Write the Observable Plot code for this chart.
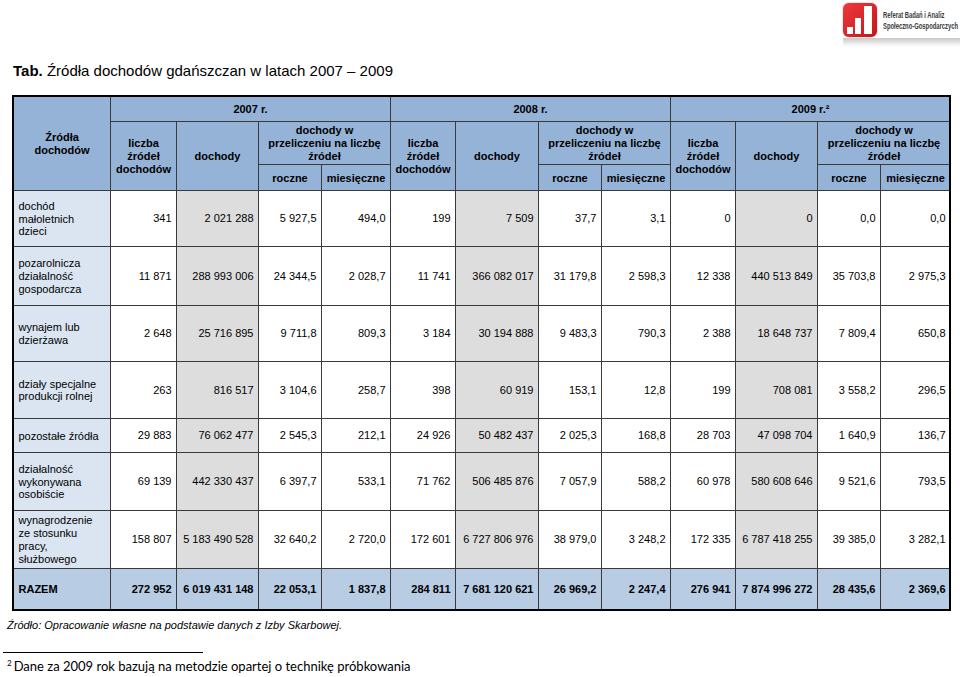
<!DOCTYPE html>
<html>
<head>
<meta charset="utf-8">
<script src="https://cdn.jsdelivr.net/npm/d3@7"></script>
<script src="https://cdn.jsdelivr.net/npm/@observablehq/plot@0.6"></script>
<style>
  html, body { margin: 0; padding: 0; background: #fff; }
  #page { position: relative; width: 960px; height: 677px; overflow: hidden; font-family: "Liberation Sans", Arial, sans-serif; color: #000; }
  #title { position: absolute; left: 13px; top: 62px; font-size: 15px; line-height: normal; white-space: nowrap; }
  #chart { position: absolute; left: 0; top: 90px; }
  #logoBox { position: absolute; left: 843px; top: 3px; width: 34px; height: 34px; border-radius: 6px;
             background: linear-gradient(135deg, #ee3a3d, #c3151b); box-shadow: 0 0 1px #900; }
  .bar { position: absolute; background: #fff; bottom: 3px; width: 6px; }
  #logoText { position: absolute; left: 883px; top: 10px; font-family: "Liberation Sans", sans-serif;
              font-weight: bold; font-size: 8.5px; line-height: 11px; color: #3a3a3a; white-space: nowrap;
              transform-origin: 0 0; }
  #logoShadow { position: absolute; left: 843px; top: 38px; width: 117px; height: 9px;
                background: linear-gradient(to bottom, #c8c8c8, #f2f2f2 70%, #fff); }
  #source { position: absolute; left: 7px; top: 619px; font-size: 11px; font-style: italic; white-space: nowrap; }
  #rule { position: absolute; left: 3px; top: 652px; width: 200px; height: 0; border-top: 1px solid #000; }
  #note { position: absolute; left: 7px; top: 658px; font-family: Lato, "Open Sans", sans-serif; font-size: 13px; white-space: nowrap; }
  #note sup { font-size: 8px; vertical-align: 5px; margin-right: 2px; }
</style>
</head>
<body>
<div id="page">
  <div id="logoBox">
    <div class="bar" style="left:4px;height:7px;"></div>
    <div class="bar" style="left:12px;height:16px;"></div>
    <div class="bar" style="left:21px;width:8px;height:28px;"></div>
  </div>
  <div id="logoShadow"></div>
  <div id="logoText">Referat Badań i Analiz<br>Społeczno-Gospodarczych</div>
  <div id="title"><b>Tab.</b> Źródła dochodów gdańszczan w latach 2007 – 2009</div>
  <div id="chart"></div>
  <div id="source">Źródło: Opracowanie własne na podstawie danych z Izby Skarbowej.</div>
  <div id="rule"></div>
  <div id="note"><sup>2</sup>Dane za 2009 rok bazują na metodzie opartej o technikę próbkowania</div>
</div>
<script>
// ---------- DATA ----------
const sources = [
  "dochód\nmałoletnich\ndzieci",
  "pozarolnicza\ndziałalność\ngospodarcza",
  "wynajem lub\ndzierżawa",
  "działy specjalne\nprodukcji rolnej",
  "pozostałe źródła",
  "działalność\nwykonywana\nosobiście",
  "wynagrodzenie\nze stosunku\npracy,\nsłużbowego",
  "RAZEM"
];
const years = ["2007 r.", "2008 r.", "2009 r.²"];
const cornerHeader = "Źródła\ndochodów";
const groupHeaders = ["liczba\nźródeł\ndochodów", "dochody", "dochody w\nprzeliczeniu na liczbę\nźródeł"];
const perSourceHeaders = ["roczne", "miesięczne"];

const count2007   = [341, 11871, 2648, 263, 29883, 69139, 158807, 272952];
const income2007  = [2021288, 288993006, 25716895, 816517, 76062477, 442330437, 5183490528, 6019431148];
const yearly2007  = [5927.5, 24344.5, 9711.8, 3104.6, 2545.3, 6397.7, 32640.2, 22053.1];
const monthly2007 = [494.0, 2028.7, 809.3, 258.7, 212.1, 533.1, 2720.0, 1837.8];

const count2008   = [199, 11741, 3184, 398, 24926, 71762, 172601, 284811];
const income2008  = [7509, 366082017, 30194888, 60919, 50482437, 506485876, 6727806976, 7681120621];
const yearly2008  = [37.7, 31179.8, 9483.3, 153.1, 2025.3, 7057.9, 38979.0, 26969.2];
const monthly2008 = [3.1, 2598.3, 790.3, 12.8, 168.8, 588.2, 3248.2, 2247.4];

const count2009   = [0, 12338, 2388, 199, 28703, 60978, 172335, 276941];
const income2009  = [0, 440513849, 18648737, 708081, 47098704, 580608646, 6787418255, 7874996272];
const yearly2009  = [0.0, 35703.8, 7809.4, 3558.2, 1640.9, 9521.6, 39385.0, 28435.6];
const monthly2009 = [0.0, 2975.3, 650.8, 296.5, 136.7, 793.5, 3282.1, 2369.6];

// ---------- LAYOUT ----------
const colW = [97, 66, 82, 63, 69, 65, 83, 63, 69, 65, 82, 63, 70];
const rowH = [25, 43, 26, 56, 59, 56, 57, 34, 58, 58, 42];
const xb = Array.from(d3.cumsum([0, ...colW]));
const yb = Array.from(d3.cumsum([0, ...rowH]));
const W = xb[xb.length - 1], H = yb[yb.length - 1];
const HEAD_ROWS = 3;

const fills = {head: "#95b3d7", label: "#dbe5f1", razem: "#b8cce4", gray: "#dddddd", white: "#ffffff"};

const loc = d3.formatLocale({decimal: ",", thousands: " ", grouping: [3], currency: ["", ""]});
const fmtInt = loc.format(",d"), fmt1 = loc.format(",.1f");

const yearData = [
  [count2007, income2007, yearly2007, monthly2007],
  [count2008, income2008, yearly2008, monthly2008],
  [count2009, income2009, yearly2009, monthly2009]
];
const formats = [fmtInt, fmtInt, fmt1, fmt1];

const cells = [];
function cell(c0, c1, r0, r1, text, kind, role) {
  cells.push({x1: xb[c0], x2: xb[c1], y1: yb[r0], y2: yb[r1], text, kind, role});
}
// header
cell(0, 1, 0, 3, cornerHeader, "head", "head");
years.forEach((yr, k) => {
  const c = 1 + 4 * k;
  cell(c, c + 4, 0, 1, yr, "head", "head");
  cell(c, c + 1, 1, 3, groupHeaders[0], "head", "head");
  cell(c + 1, c + 2, 1, 3, groupHeaders[1], "head", "head");
  cell(c + 2, c + 4, 1, 2, groupHeaders[2], "head", "head");
  cell(c + 2, c + 3, 2, 3, perSourceHeaders[0], "head", "head");
  cell(c + 3, c + 4, 2, 3, perSourceHeaders[1], "head", "head");
});
// body
sources.forEach((s, i) => {
  const r = HEAD_ROWS + i;
  const isTotal = i === sources.length - 1;
  cell(0, 1, r, r + 1, s, isTotal ? "razem" : "label", isTotal ? "totalLabel" : "label");
  yearData.forEach((measures, k) => {
    measures.forEach((arr, m) => {
      const c = 1 + 4 * k + m;
      cell(c, c + 1, r, r + 1, formats[m](arr[i]),
        isTotal ? "razem" : (m === 1 ? "gray" : "white"),
        isTotal ? "totalValue" : "value");
    });
  });
});

const midY = d => (d.y1 + d.y2) / 2;
const chart = Plot.plot({
  width: 960,
  height: 526,
  x: {type: "linear", domain: [0, W], range: [13, 950], axis: null},
  y: {type: "linear", domain: [0, H], range: [6, 520], axis: null},
  color: {type: "identity"},
  style: {fontFamily: "'Liberation Sans', Arial, sans-serif", fontSize: "11px", color: "#000", background: "#fff", overflow: "visible"},
  marks: [
    Plot.rect(cells, {x1: "x1", x2: "x2", y1: "y1", y2: "y2", fill: d => fills[d.kind],
      stroke: "#3a3a3a", strokeWidth: 1, inset: 0, shapeRendering: "crispEdges"}),
    Plot.rect([{x1: 0, x2: W, y1: 0, y2: H}], {x1: "x1", x2: "x2", y1: "y1", y2: "y2",
      fill: "none", stroke: "#000", strokeWidth: 2, inset: 0, shapeRendering: "crispEdges"}),
    Plot.text(cells.filter(d => d.role === "head"), {x: d => (d.x1 + d.x2) / 2, y: midY, text: "text",
      fontWeight: "bold", fontSize: 11, lineHeight: 1.18, fill: "#000"}),
    Plot.text(cells.filter(d => d.role === "label"), {x: "x1", y: midY, text: "text", dx: 5,
      textAnchor: "start", fontSize: 11, lineHeight: 1.16, fill: "#000"}),
    Plot.text(cells.filter(d => d.role === "totalLabel"), {x: "x1", y: midY, text: "text", dx: 5,
      textAnchor: "start", fontSize: 11, fontWeight: "bold", fill: "#000"}),
    Plot.text(cells.filter(d => d.role === "value"), {x: "x2", y: midY, text: "text", dx: -5,
      textAnchor: "end", fontSize: 11, fill: "#000"}),
    Plot.text(cells.filter(d => d.role === "totalValue"), {x: "x2", y: midY, text: "text", dx: -5,
      textAnchor: "end", fontSize: 11, fontWeight: "bold", fill: "#000"})
  ]
});
document.getElementById("chart").appendChild(chart);

// fit logo caption into the space to the right edge
const lt = document.getElementById("logoText");
const lw = lt.scrollWidth;
if (lw > 75) lt.style.transform = `scaleX(${75 / lw})`;
</script>
</body>
</html>
